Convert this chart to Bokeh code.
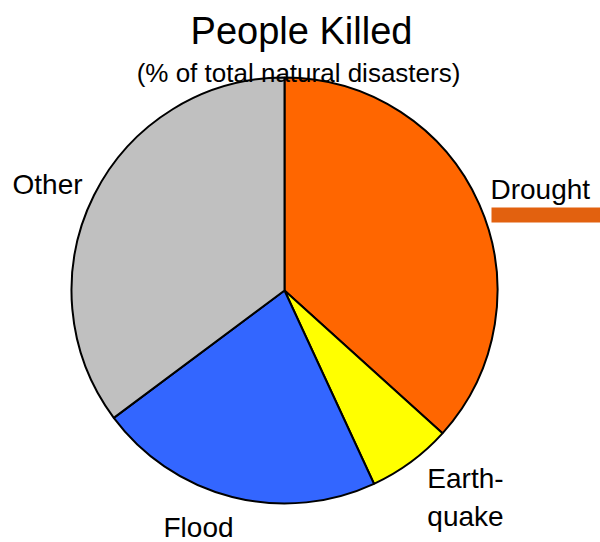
import math
from bokeh.plotting import figure
from bokeh.models import Range1d, ColumnDataSource
from bokeh.core.properties import value
from bokeh.embed import file_html
from bokeh.resources import INLINE

# ---- data ----
categories = ["Drought", "Earthquake", "Flood", "Other"]
percent = [36.7, 6.4, 21.7, 35.2]
colors = ["#FF6600", "#FFFF00", "#3366FF", "#C0C0C0"]
title_text = "People Killed"
subtitle_text = "(% of total natural disasters)"
label_texts = ["Drought", "Earth-\nquake", "Flood", "Other"]

# ---- layout (picture pixel coordinates, y measured from top) ----
W, H = 600, 542
def Y(sy):
    return H - sy

cx, cy, r = 284, Y(290), 213

total = sum(percent)
starts, ends = [], []
cum = 0.0
for v in percent:
    starts.append(math.pi / 2 - 2 * math.pi * cum / total)
    cum += v
    ends.append(math.pi / 2 - 2 * math.pi * cum / total)

src = ColumnDataSource(dict(cat=categories, val=percent, color=colors,
                            start=starts, end=ends))

p = figure(width=W, height=H, output_backend="svg", toolbar_location=None,
           x_range=Range1d(0, W), y_range=Range1d(0, H),
           min_border=0, outline_line_color=None)
p.axis.visible = False
p.grid.visible = False
p.background_fill_color = "white"
p.border_fill_color = "white"

p.wedge(x=cx, y=cy, radius=r, start_angle="start", end_angle="end",
        direction="clock", fill_color="color", line_color="black",
        line_width=2, source=src)

font = value("Liberation Sans")

# title
p.text(x=[301], y=[Y(30)], text=[title_text], text_font=font,
       text_font_size="38px", text_align="center",
       text_baseline="alphabetic", text_color="black")
p.text(x=[298], y=[Y(72)], text=[subtitle_text], text_font=font,
       text_font_size="26px", text_align="center",
       text_baseline="alphabetic", text_color="black")

# labels
lab_x = [490, 465, 198, 12]
lab_y = [Y(189), Y(497), Y(527), Y(184)]
lab_align = ["left", "center", "center", "left"]
p.text(x=lab_x, y=lab_y, text=label_texts, text_font=font,
       text_font_size="28px", text_align=lab_align,
       text_baseline="alphabetic", text_color="black",
       text_line_height=1.2)

# legend-like bar under Drought label
p.quad(left=[491], right=[W], bottom=[Y(222)], top=[Y(207)],
       fill_color="#E2610F", line_color=None)

open("out.html", "w").write(file_html(p, INLINE))
